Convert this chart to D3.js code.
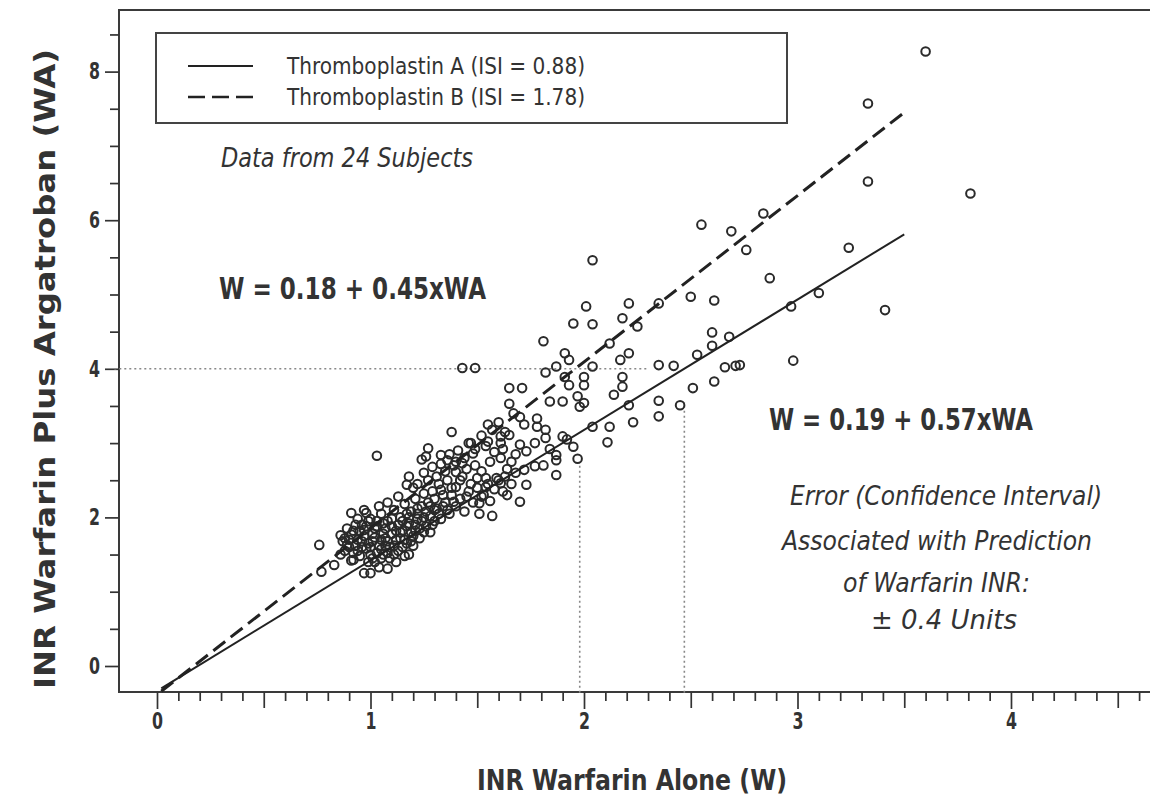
<!DOCTYPE html>
<html><head><meta charset="utf-8">
<script src="https://cdn.jsdelivr.net/npm/d3@7"></script>
<style>
body{margin:0;background:#fff;}
text{font-family:"DejaVu Sans Condensed","Liberation Sans Narrow","Liberation Sans",Arial,sans-serif;fill:#333;}
</style></head><body>
<svg id="chart" width="1150" height="803"></svg>
<script>
// ---- data ----
const xMajorTicks = [0, 1, 2, 3, 4];
const yMajorTicks = [0, 2, 4, 6, 8];
const legendLabels = ["Thromboplastin A (ISI = 0.88)", "Thromboplastin B (ISI = 1.78)"];
const lineA = [[0.02, -0.30], [3.50, 5.81]];   // solid, Thromboplastin A
const lineB = [[0.02, -0.34], [3.50, 7.45]];   // dashed, Thromboplastin B
const refHorizontal = [[-0.2, 4], [2.30, 4]];
const refVertical1 = [[1.98, -0.36], [1.98, 2.75]];
const refVertical2 = [[2.47, -0.36], [2.47, 3.55]];
const equationA = "W = 0.19 + 0.57xWA";
const equationB = "W = 0.18 + 0.45xWA";
const noteLines = ["Error (Confidence Interval)", "Associated with Prediction", "of Warfarin INR:", "± 0.4 Units"];
// [W (warfarin alone), WA (warfarin plus argatroban)]
const points = [
 [3.60,8.27],[3.33,7.57],[3.33,6.52],[3.81,6.36],[2.84,6.09],[2.76,5.60],[3.24,5.63],[2.87,5.22],[3.10,5.02],
 [2.97,4.84],[3.41,4.79],[2.98,4.11],[2.73,4.05],[2.55,5.94],
 [2.04,5.46],[2.69,5.85],[2.50,4.97],[2.61,4.92],[2.21,4.88],[2.01,4.84],[2.35,4.88],[2.18,4.68],[2.04,4.60],
 [2.25,4.57],[2.60,4.49],[2.68,4.43],[2.60,4.31],[2.12,4.34],[2.21,4.21],[2.53,4.19],[2.17,4.12],[2.04,4.03],
 [2.35,4.05],[2.42,4.04],[2.66,4.02],[2.71,4.04],[2.00,3.89],[2.18,3.89],[2.18,3.76],[2.00,3.78],[2.14,3.65],
 [2.51,3.74],[2.61,3.83],[2.00,3.54],[2.21,3.51],[2.35,3.57],[2.35,3.36],[2.45,3.51],[2.23,3.28],[2.12,3.22],[2.04,3.22],
 [1.95,4.61],[1.81,4.37],[1.43,4.01],[1.49,4.01],[1.91,4.21],[1.93,4.12],[1.87,4.03],[1.82,3.95],[1.91,3.89],
 [1.93,3.78],[1.65,3.74],[1.71,3.74],[1.84,3.56],[1.90,3.56],[1.97,3.63],[1.65,3.53],
 [1.38,3.15],[1.55,3.25],[1.72,3.25],[1.78,3.33],[1.78,3.22],[1.82,3.18],[1.65,3.11],[1.61,3.09],[1.82,3.07],
 [1.77,3.00],[1.90,3.09],[1.73,2.89],[1.61,3.00],[1.54,2.96],[1.47,3.00],[1.48,2.86],[1.27,2.93],[1.33,2.84],
 [1.61,2.80],[1.66,2.75],[1.87,2.84],[1.95,2.95],[1.87,2.77],[1.36,2.77],[1.43,2.73],[1.77,2.69],[1.72,2.64],
 [1.81,2.70],[1.97,2.79],[1.87,2.57],[1.40,2.61],[1.50,2.53],[1.54,2.53],[1.59,2.53],[1.42,2.50],[1.54,2.41],
 [1.61,2.46],[1.73,2.44],[1.33,2.37],[1.40,2.41],[1.64,2.30],[1.70,2.21],[1.53,2.30],[1.45,2.28],[1.39,2.21],
 [1.51,2.19],[1.51,2.05],[1.57,2.02],[1.36,2.10],
 [1.03,2.83],[0.76,1.63],[0.91,2.06],[0.98,2.06],[1.18,2.55],[1.17,2.44],[1.26,2.82],[1.08,1.31],[0.92,1.43],
 [0.83,1.36],[0.86,1.76],[0.97,1.25],[0.77,1.27],[1.24,2.78],[2.11,3.01],[1.98,3.49],[1.84,2.92],[1.92,3.05],
 [0.88,1.55],[0.90,1.70],[0.92,1.82],[0.93,1.62],[0.95,1.48],[0.96,1.90],[0.97,1.75],[0.98,1.58],[0.99,1.40],
 [1.00,1.98],[1.01,1.68],[1.02,1.85],[1.03,1.52],[1.04,1.33],[1.05,2.05],[1.06,1.78],[1.07,1.62],[1.08,1.95],
 [1.09,1.45],[1.10,1.88],[1.11,2.10],[1.12,1.70],[1.13,1.55],[1.14,2.00],[1.15,1.82],[1.16,2.18],[1.17,1.65],
 [1.18,1.92],[1.19,2.08],[1.20,1.75],[1.21,2.25],[1.22,1.98],[1.23,1.85],[1.24,2.15],[1.25,2.32],[0.94,1.98],
 [0.91,1.42],[1.00,1.25],[1.02,1.40],[1.06,1.50],[0.87,1.68],[0.89,1.85],[1.12,1.40],[1.15,1.60],[1.08,2.20],
 [1.13,2.28],[1.18,1.50],[1.20,2.40],[1.04,2.15],[0.97,2.10],
 [1.26,1.88],[1.28,2.02],[1.30,1.95],[1.31,2.12],[1.33,1.98],[1.35,2.20],[1.37,2.05],[1.38,2.30],[1.40,2.15],
 [1.42,2.25],[1.44,2.08],[1.46,2.35],[1.48,2.20],[1.50,2.40],[1.52,2.28],[1.55,2.45],[1.56,2.22],[1.58,2.38],
 [1.60,2.50],[1.62,2.35],[1.63,2.55],[1.66,2.45],[1.68,2.60],
 [1.22,2.45],[1.25,2.60],[1.27,2.50],[1.29,2.68],[1.31,2.55],[1.33,2.72],[1.35,2.62],[1.37,2.85],[1.39,2.70],
 [1.41,2.90],[1.44,2.80],[1.46,3.00],[1.49,2.92],[1.52,3.10],[1.55,3.02],[1.57,3.18],[1.60,3.28],[1.63,3.15],
 [1.67,3.40],[1.70,3.35],
 [0.86,1.50],[0.88,1.72],[0.90,1.60],[0.92,1.52],[0.94,1.70],[0.95,1.82],[0.96,1.60],[0.98,1.88],[0.99,1.65],
 [1.00,1.50],[1.01,1.78],[1.03,1.95],[1.04,1.62],[1.05,1.45],[1.06,1.92],[1.07,1.72],[1.09,1.60],[1.10,1.98],
 [1.11,1.50],[1.12,1.82],[1.14,1.72],[1.15,1.95],[1.16,1.48],[1.17,2.05],[1.19,1.80],[1.20,1.62],[1.21,1.90],
 [1.22,2.12],[1.23,1.72],[1.25,2.00],[1.27,2.20],[1.28,1.80],[1.29,2.35],[1.30,2.10],[1.32,2.45],[1.34,2.30],
 [1.36,2.50],[1.38,2.40],[1.40,2.75],[1.43,2.55],[1.45,2.65],[1.47,2.45],[1.49,2.70],[1.52,2.62],[1.56,2.75],
 [1.58,2.88],[1.62,2.92],[1.64,2.65],[1.68,2.85],[1.70,2.98],
 [0.89,1.63],[0.91,1.77],[0.93,1.90],[0.94,1.55],[0.96,1.68],[0.97,1.83],[0.99,1.95],[1.00,1.60],[1.01,1.45],
 [1.02,1.73],[1.03,1.88],[1.05,1.57],[1.05,1.70],[1.07,1.85],[1.08,1.52],[1.08,1.68],[1.10,1.78],[1.11,1.62],
 [1.13,1.90],[1.14,1.80],[1.16,1.70],[1.17,1.88],[1.18,2.00],[1.19,1.68],[1.21,1.82],[1.22,2.05],[1.24,1.95],
 [1.26,2.08],[1.28,2.15],[1.30,2.25],[1.32,2.05],[1.34,2.15],[1.29,1.90],[1.25,1.80]
];

// ---- drawing ----
const svg = d3.select("#chart");
const ink = "#333";
const x = d3.scaleLinear().domain([0, 4]).range([157, 1011]);
const y = d3.scaleLinear().domain([0, 8]).range([666, 71.6]);
const frameL = 119, frameT = 10, frameB = 692, frameR = 1156;

// frame
svg.append("path")
  .attr("d", `M${frameR},${frameT}H${frameL}V${frameB}H${frameR}`)
  .attr("fill", "none").attr("stroke", "#3a3a3a").attr("stroke-width", 2);

// x axis ticks
const xMinor = d3.range(0, 47).map(i => i / 10).filter(v => Math.abs(v * 2 - Math.round(v * 2)) > 1e-6);
const xHalf = d3.range(0, 10).map(i => i / 2).filter(v => !Number.isInteger(v));
function styleAxis(g) { g.select(".domain").remove(); g.selectAll("line").attr("stroke", ink).attr("stroke-width", 1.7); }
svg.append("g").attr("transform", `translate(0,${frameB})`)
  .call(d3.axisBottom(x).tickValues(xMinor).tickSize(9).tickFormat("")).call(styleAxis);
svg.append("g").attr("transform", `translate(0,${frameB})`)
  .call(d3.axisBottom(x).tickValues(xHalf).tickSize(16).tickFormat("")).call(styleAxis);
svg.append("g").attr("transform", `translate(0,${frameB})`)
  .call(d3.axisBottom(x).tickValues(xMajorTicks).tickSize(17).tickPadding(4).tickFormat(d3.format("d")))
  .call(styleAxis)
  .call(g => g.selectAll("text").attr("font-size", 23).attr("font-weight", "bold").attr("fill", ink)
    .attr("textLength", 11).attr("lengthAdjust", "spacingAndGlyphs"));

// y axis ticks
const yMinor = d3.range(0, 18).map(i => i / 2).filter(v => !yMajorTicks.includes(v));
svg.append("g").attr("transform", `translate(${frameL},0)`)
  .call(d3.axisLeft(y).tickValues(yMinor).tickSize(9).tickFormat("")).call(styleAxis);
svg.append("g").attr("transform", `translate(${frameL},0)`)
  .call(d3.axisLeft(y).tickValues(yMajorTicks).tickSize(14).tickPadding(5).tickFormat(d3.format("d")))
  .call(styleAxis)
  .call(g => g.selectAll("text").attr("font-size", 23).attr("font-weight", "bold").attr("fill", ink)
    .attr("textLength", 11).attr("lengthAdjust", "spacingAndGlyphs"));

// reference dotted lines
const line = d3.line().x(d => x(d[0])).y(d => y(d[1]));
[refHorizontal, refVertical1, refVertical2].forEach(r => {
  svg.append("path").attr("d", line(r)).attr("fill", "none")
    .attr("stroke", "#888").attr("stroke-width", 1.6).attr("stroke-dasharray", "2,3");
});

// points
svg.append("g").selectAll("circle").data(points).join("circle")
  .attr("cx", d => x(d[0])).attr("cy", d => y(d[1])).attr("r", 4.3)
  .attr("fill", "none").attr("stroke", "#2a2a2a").attr("stroke-width", 2);

// regression lines
svg.append("path").attr("d", line(lineA)).attr("fill", "none").attr("stroke", "#222").attr("stroke-width", 2);
svg.append("path").attr("d", line(lineB)).attr("fill", "none").attr("stroke", "#222").attr("stroke-width", 3)
  .attr("stroke-dasharray", "15,7");

// legend
svg.append("rect").attr("x", 156).attr("y", 33).attr("width", 631).attr("height", 90)
  .attr("fill", "#fff").attr("stroke", "#444").attr("stroke-width", 2);
const legY = [66, 97];
svg.append("line").attr("x1", 188).attr("x2", 253).attr("y1", legY[0]).attr("y2", legY[0])
  .attr("stroke", "#222").attr("stroke-width", 2);
svg.append("line").attr("x1", 188).attr("x2", 253).attr("y1", legY[1]).attr("y2", legY[1])
  .attr("stroke", "#222").attr("stroke-width", 2.5).attr("stroke-dasharray", "17,7");
legendLabels.forEach((t, i) => {
  svg.append("text").attr("x", 287).attr("y", legY[i] + 8).attr("font-size", 23)
    .attr("textLength", 298).attr("lengthAdjust", "spacingAndGlyphs").text(t);
});

// annotations
svg.append("text").attr("x", 221).attr("y", 167).attr("font-size", 27).attr("font-style", "italic")
  .attr("textLength", 252).attr("lengthAdjust", "spacingAndGlyphs").text("Data from 24 Subjects");
svg.append("text").attr("x", 219).attr("y", 299).attr("font-size", 30).attr("font-weight", "bold")
  .attr("textLength", 267).attr("lengthAdjust", "spacingAndGlyphs").text(equationB);
svg.append("text").attr("x", 769).attr("y", 430).attr("font-size", 30).attr("font-weight", "bold")
  .attr("textLength", 264).attr("lengthAdjust", "spacingAndGlyphs").text(equationA);
const noteX = [790, 782, 843, 871], noteW = [312, 310, 187, 146], noteY = [505, 550, 592, 629];
noteLines.forEach((t, i) => {
  svg.append("text").attr("x", noteX[i]).attr("y", noteY[i]).attr("font-size", 27).attr("font-style", "italic")
    .attr("textLength", noteW[i]).attr("lengthAdjust", "spacingAndGlyphs").text(t);
});

// axis titles
svg.append("text").attr("x", 632).attr("y", 790).attr("text-anchor", "middle").attr("font-size", 28)
  .attr("font-weight", "bold").attr("textLength", 310).attr("lengthAdjust", "spacingAndGlyphs")
  .text("INR Warfarin Alone (W)");
svg.append("text").attr("transform", "translate(55,369) rotate(-90)").attr("text-anchor", "middle")
  .attr("font-size", 28).attr("font-weight", "bold").attr("textLength", 640).attr("lengthAdjust", "spacingAndGlyphs")
  .text("INR Warfarin Plus Argatroban (WA)");
</script>
</body></html>
